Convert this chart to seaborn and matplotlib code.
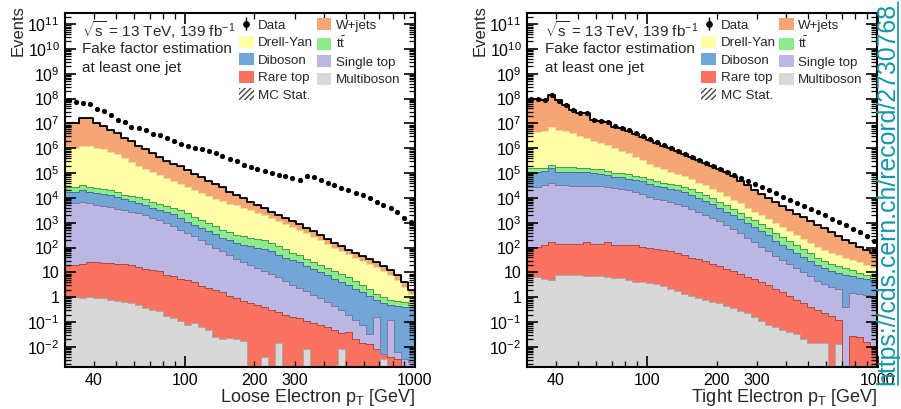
import numpy as np
import pandas as pd
import matplotlib
matplotlib.use("Agg")
import matplotlib.pyplot as plt
import matplotlib.ticker as mticker
from matplotlib.patches import Patch
from matplotlib.lines import Line2D
from matplotlib.collections import LineCollection
from matplotlib.container import ErrorbarContainer
import seaborn as sns

# ---------------- data (log10 of cumulative stack tops, bottom -> top) ----------------
pt_min, pt_max, n_bins = 30.0, 1000.0, 50

processes = ["W+jets", "Drell-Yan", r"$\mathrm{t\bar{t}}$", "Diboson",
             "Single top", "Rare top", "Multiboson"]
nan = np.nan

# Loose electrons
loose_multiboson = [-0.05, 0.02, -0.05, 0.0, -0.02, -0.05, -0.1, -0.15, -0.2, -0.25, -0.3, -0.45, -0.5, -0.55, -0.75, -0.85, -0.95, -1.1, -1.05, -1.2, -1.3, -1.6, -1.7, -1.65, -1.7, -1.75, nan, nan, -2.4, nan, -1.85, nan, nan, nan, -2.1, nan, nan, nan, nan, -2.1, nan, nan, nan, nan, nan, -2.5, nan, nan, nan, nan]
loose_raretop = [1.3, 1.3, 1.35, 1.42, 1.4, 1.36, 1.36, 1.35, 1.33, 1.28, 1.2, 1.15, 1.1, 1.05, 0.9, 0.85, 0.75, 0.68, 0.6, 0.45, 0.38, 0.3, 0.2, 0.05, -0.02, -0.15, -0.25, -0.3, -0.4, -0.5, -0.6, -0.7, -0.8, -0.85, -0.95, -1.05, -1.1, -1.2, -1.3, -1.45, -1.4, -1.7, -1.85, -1.9, -2.1, -2.3, -2.4, -2.5, nan, nan]
loose_singletop = [3.78, 3.8, 3.82, 3.78, 3.72, 3.68, 3.62, 3.56, 3.5, 3.45, 3.38, 3.3, 3.2, 3.1, 2.98, 2.85, 2.72, 2.6, 2.45, 2.3, 2.15, 2.0, 1.85, 1.72, 1.55, 1.42, 1.3, 1.18, 1.05, 0.92, 0.8, 0.65, 0.5, 0.38, 0.25, 0.1, -0.05, -0.2, -0.35, -0.5, -0.7, -0.9, -1.1, -1.5, -0.8, -2.3, -0.9, -2.2, -2.5, -2.6]
loose_diboson = [4.25, 4.25, 4.32, 4.25, 4.2, 4.15, 4.1, 4.02, 3.95, 3.88, 3.8, 3.7, 3.6, 3.5, 3.42, 3.35, 3.2, 3.05, 2.92, 2.8, 2.68, 2.55, 2.4, 2.3, 2.2, 2.12, 2.05, 2.0, 1.95, 1.85, 1.72, 1.6, 1.5, 1.4, 1.25, 1.12, 1.0, 0.88, 0.75, 0.62, 0.5, 0.35, 0.2, 0.05, -0.1, -0.25, -0.3, -0.35, -0.4, -0.4]
loose_ttbar = [4.43, 4.43, 4.52, 4.45, 4.4, 4.35, 4.3, 4.22, 4.12, 4.08, 4.03, 3.95, 3.85, 3.75, 3.68, 3.6, 3.5, 3.38, 3.22, 3.1, 3.0, 2.88, 2.72, 2.62, 2.52, 2.45, 2.4, 2.35, 2.3, 2.18, 2.05, 1.93, 1.8, 1.7, 1.55, 1.42, 1.3, 1.18, 1.05, 0.92, 0.8, 0.65, 0.5, 0.35, 0.15, 0.0, -0.1, -0.15, -0.2, -0.3]
loose_drellyan = [6.0, 6.0, 6.1, 6.1, 6.0, 5.95, 5.86, 5.75, 5.62, 5.45, 5.3, 5.15, 5.05, 4.92, 4.8, 4.68, 4.57, 4.45, 4.32, 4.2, 4.07, 3.97, 3.87, 3.77, 3.7, 3.6, 3.5, 3.4, 3.3, 3.18, 3.07, 2.95, 2.83, 2.72, 2.58, 2.44, 2.3, 2.15, 2.0, 1.86, 1.73, 1.6, 1.47, 1.35, 1.2, 1.05, 0.9, 0.7, 0.4, 0.15]
loose_wjets = [7.03, 7.03, 7.2, 7.2, 7.03, 6.9, 6.75, 6.6, 6.4, 6.28, 6.1, 5.95, 5.82, 5.66, 5.5, 5.38, 5.28, 5.13, 4.98, 4.85, 4.7, 4.55, 4.42, 4.25, 4.1, 3.98, 3.85, 3.72, 3.58, 3.45, 3.32, 3.2, 3.08, 2.95, 2.8, 2.65, 2.5, 2.35, 2.2, 2.05, 1.92, 1.78, 1.65, 1.55, 1.4, 1.25, 1.1, 0.9, 0.6, 0.3]
loose_data = [7.95, 7.88, 7.82, 7.8, 7.57, 7.5, 7.33, 7.15, 7.07, 6.85, 6.8, 6.72, 6.56, 6.52, 6.4, 6.3, 6.18, 6.1, 6.02, 5.95, 5.87, 5.81, 5.68, 5.55, 5.47, 5.33, 5.24, 5.15, 5.08, 5.0, 4.93, 4.87, 4.79, 4.72, 4.9, 4.83, 4.73, 4.62, 4.52, 4.41, 4.31, 4.21, 4.1, 3.99, 3.85, 3.71, 3.58, 3.44, 3.2, 3.05]

# Tight electrons
tight_multiboson = [0.82, 0.82, 0.75, 0.69, 0.89, 0.89, 0.88, 0.88, 0.85, 0.85, 0.85, 0.8, 0.76, 0.76, 0.7, 0.62, 0.6, 0.58, 0.55, 0.45, 0.35, 0.25, 0.15, 0.05, -0.05, -0.1, -0.2, -0.25, -0.35, -0.45, -0.55, -0.65, -0.8, -0.95, -1.1, -1.2, -1.3, -1.4, -1.5, -1.7, -1.86, -1.86, -1.86, nan, -1.9, nan, nan, nan, nan, nan]
tight_raretop = [2.03, 2.03, 2.1, 2.23, 2.14, 2.14, 2.14, 2.14, 2.23, 2.14, 2.14, 2.23, 2.12, 2.12, 2.12, 2.1, 2.03, 2.0, 1.95, 1.9, 1.85, 1.77, 1.7, 1.6, 1.56, 1.45, 1.35, 1.25, 1.15, 1.05, 0.95, 0.82, 0.72, 0.6, 0.48, 0.35, 0.2, 0.05, -0.1, -0.25, -0.4, -0.52, -0.65, -0.75, -0.92, nan, -1.55, -1.6, -1.8, -2.0]
tight_singletop = [4.45, 4.45, 4.5, 4.59, 4.52, 4.52, 4.48, 4.48, 4.48, 4.48, 4.46, 4.44, 4.39, 4.36, 4.3, 4.22, 4.14, 4.04, 3.96, 3.9, 3.84, 3.76, 3.68, 3.56, 3.44, 3.32, 3.2, 3.06, 2.9, 2.74, 2.58, 2.4, 2.22, 2.02, 1.85, 1.68, 1.5, 1.33, 1.17, 1.0, 0.84, 0.66, 0.52, 0.42, 0.32, -0.4, 0.18, 0.12, 0.08, 0.04]
tight_diboson = [5.06, 5.06, 5.08, 5.19, 5.06, 5.06, 5.06, 5.05, 5.04, 5.0, 4.97, 4.93, 4.86, 4.83, 4.78, 4.72, 4.68, 4.58, 4.48, 4.42, 4.36, 4.3, 4.24, 4.12, 4.0, 3.88, 3.75, 3.6, 3.45, 3.3, 3.14, 2.98, 2.82, 2.66, 2.5, 2.28, 2.1, 1.94, 1.78, 1.62, 1.46, 1.3, 1.16, 1.06, 0.97, 0.9, 0.84, 0.78, 0.72, 0.66]
tight_ttbar = [5.19, 5.19, 5.22, 5.33, 5.23, 5.23, 5.23, 5.22, 5.2, 5.15, 5.15, 5.1, 5.02, 4.99, 4.95, 4.88, 4.84, 4.76, 4.68, 4.62, 4.56, 4.5, 4.44, 4.35, 4.22, 4.1, 3.98, 3.85, 3.7, 3.55, 3.4, 3.25, 3.1, 2.95, 2.78, 2.58, 2.42, 2.27, 2.12, 1.95, 1.78, 1.6, 1.45, 1.35, 1.26, 1.18, 1.08, 0.98, 0.88, 0.78]
tight_drellyan = [6.67, 6.67, 6.7, 6.85, 6.72, 6.68, 6.6, 6.5, 6.42, 6.3, 6.22, 6.12, 6.0, 5.9, 5.8, 5.65, 5.52, 5.35, 5.25, 5.15, 5.05, 4.97, 4.88, 4.75, 4.62, 4.5, 4.35, 4.22, 4.08, 3.93, 3.78, 3.6, 3.45, 3.3, 3.15, 2.98, 2.82, 2.68, 2.52, 2.35, 2.2, 2.02, 1.9, 1.8, 1.7, 1.6, 1.5, 1.42, 1.3, 1.2]
tight_wjets = [8.0, 7.97, 7.95, 8.15, 7.93, 7.75, 7.56, 7.42, 7.4, 7.14, 7.1, 7.05, 6.87, 6.8, 6.7, 6.58, 6.45, 6.32, 6.2, 6.1, 6.0, 5.9, 5.78, 5.66, 5.54, 5.42, 5.3, 5.17, 5.04, 4.88, 4.68, 4.5, 4.32, 4.15, 3.99, 3.83, 3.67, 3.52, 3.37, 3.22, 3.07, 2.92, 2.77, 2.62, 2.47, 2.32, 2.17, 2.03, 1.9, 1.78]
tight_data = [8.0, 7.98, 7.95, 8.15, 7.92, 7.75, 7.55, 7.43, 7.4, 7.15, 7.1, 7.05, 6.88, 6.82, 6.72, 6.62, 6.5, 6.36, 6.24, 6.12, 6.0, 5.88, 5.77, 5.66, 5.54, 5.42, 5.3, 5.17, 5.05, 4.93, 4.8, 4.68, 4.55, 4.42, 4.3, 4.18, 4.05, 3.93, 3.8, 3.67, 3.54, 3.42, 3.3, 3.17, 3.04, 2.9, 2.76, 2.62, 2.46, 2.25]

x_ticklabels = {40: "40", 100: "100", 200: "200", 300: "300", 1000: "1000"}

# ---------------- style ----------------
colors = ["#F6A574", "#FFFFAA", "#8DEB8D", "#72A6D6", "#BCB7E2", "#FA7262", "#D8D8D8"]
edge_colors = ["black", "#E6E28A", "#3F9E3F", "#4A6E9C", "#7D78A8", "#B8463C", "#A9A9A9"]

sns.set_theme(style="ticks")
plt.rcParams["font.family"] = ["Liberation Sans", "DejaVu Sans"]
plt.rcParams["mathtext.fontset"] = "custom"
plt.rcParams["mathtext.rm"] = "Liberation Sans"
plt.rcParams["mathtext.it"] = "Liberation Sans:italic"
plt.rcParams["mathtext.bf"] = "Liberation Sans:bold"

fig = plt.figure(figsize=(9.01, 4.09), dpi=100)
W, H = 901.0, 409.0


def ax_rect(left_px, right_px, top_px, bottom_px):
    return [left_px / W, 1 - bottom_px / H, (right_px - left_px) / W, (bottom_px - top_px) / H]


edges = np.geomspace(pt_min, pt_max, n_bins + 1)
centers = np.sqrt(edges[:-1] * edges[1:])
log_bins = list(np.log10(edges))


def stack_components(tops_bottom_up):
    prev = np.zeros(n_bins)
    comps = []
    for t in tops_bottom_up:
        t = np.asarray(t, dtype=float)
        cum = np.where(np.isnan(t), 0.0, 10.0 ** np.nan_to_num(t, nan=-9))
        cum = np.maximum(cum, prev)
        comps.append(cum - prev)
        prev = cum
    return comps[::-1], prev  # top -> bottom order, total


def ylabel_fmt(v, pos):
    k = int(round(np.log10(v)))
    if k == 0:
        return "1"
    if k == 1:
        return "10"
    return r"$10^{%d}$" % k


panels = [
    dict(rect=ax_rect(65, 415, 13, 367), xlabel=r"Loose Electron p$_{\mathrm{T}}$ [GeV]",
         tops=[loose_multiboson, loose_raretop, loose_singletop, loose_diboson,
               loose_ttbar, loose_drellyan, loose_wjets], data=loose_data),
    dict(rect=ax_rect(527, 877.5, 13, 367), xlabel=r"Tight Electron p$_{\mathrm{T}}$ [GeV]",
         tops=[tight_multiboson, tight_raretop, tight_singletop, tight_diboson,
               tight_ttbar, tight_drellyan, tight_wjets], data=tight_data),
]

for p in panels:
    ax = fig.add_axes(p["rect"])
    comps, total = stack_components(p["tops"])
    df = pd.DataFrame({
        "pt": np.tile(centers, len(processes)),
        "w": np.concatenate(comps),
        "proc": np.repeat(processes, n_bins),
    })
    sns.histplot(data=df, x="pt", weights="w", hue="proc", hue_order=processes,
                 palette=dict(zip(processes, colors)), multiple="stack",
                 element="step", fill=True, alpha=1, linewidth=0,
                 edgecolor="none", bins=log_bins, log_scale=(True, False),
                 legend=False, ax=ax)
    sns.histplot(data=df, x="pt", weights="w", hue="proc", hue_order=processes,
                 palette=dict(zip(processes, edge_colors)), multiple="stack",
                 element="step", fill=False, linewidth=0.7,
                 bins=log_bins, legend=False, ax=ax)
    sns.histplot(x=centers, weights=total, element="step", fill=False,
                 color="black", linewidth=1.3, bins=log_bins,
                 legend=False, ax=ax)
    sns.scatterplot(x=centers, y=10.0 ** np.asarray(p["data"]), color="black",
                    s=14, linewidth=0, zorder=6, ax=ax)

    ax.set_yscale("log")
    ax.set_xlim(pt_min, pt_max)
    ax.set_ylim(1.55e-3, 2.8e11)
    ax.set_xlabel("")
    ax.set_ylabel("")

    # y ticks
    ax.yaxis.set_major_locator(mticker.FixedLocator([10.0 ** k for k in range(-2, 12)]))
    ax.yaxis.set_major_formatter(mticker.FuncFormatter(ylabel_fmt))
    ax.yaxis.set_minor_locator(mticker.LogLocator(base=10, subs=np.arange(2, 10), numticks=100))
    ax.yaxis.set_minor_formatter(mticker.NullFormatter())
    # x ticks
    ax.xaxis.set_major_locator(mticker.FixedLocator([100, 1000]))
    ax.xaxis.set_minor_locator(mticker.FixedLocator(
        [40, 50, 60, 70, 80, 90, 200, 300, 400, 500, 600, 700, 800, 900]))
    ax.xaxis.set_major_formatter(mticker.FuncFormatter(
        lambda v, pos: x_ticklabels.get(int(round(v)), "")))
    ax.xaxis.set_minor_formatter(mticker.FuncFormatter(
        lambda v, pos: x_ticklabels.get(int(round(v)), "")))

    ax.tick_params(which="both", direction="in", top=True, right=True,
                   labelsize=11.5, colors="black")
    ax.tick_params(which="major", length=8, width=1.2, pad=4)
    ax.tick_params(which="minor", length=4, width=0.9, pad=4)
    for s in ax.spines.values():
        s.set_linewidth(1.5)
        s.set_color("black")
    ax.set_axisbelow(False)

    # labels
    ax.text(-0.134, 1.023, "Events", rotation=90, ha="center", va="top",
            fontsize=12, transform=ax.transAxes)
    ax.text(1.0, -0.085, p["xlabel"], ha="right", va="center", fontsize=13,
            transform=ax.transAxes)

    # annotations
    ax.text(0.05, 0.952, r"$\sqrt{\mathrm{s}}$ = 13 TeV, 139 fb$^{-1}$",
            ha="left", va="center", fontsize=11, transform=ax.transAxes)
    ax.text(0.05, 0.8975, "Fake factor estimation", ha="left", va="center",
            fontsize=11, transform=ax.transAxes)
    ax.text(0.05, 0.8438, "at least one jet", ha="left", va="center",
            fontsize=11, transform=ax.transAxes)

    # legend
    data_dot = Line2D([], [], color="black", marker="o", markersize=3.8,
                      linestyle="none")
    data_bar = LineCollection([], colors="black", linewidths=1.0)
    data_h = ErrorbarContainer((data_dot, (), (data_bar,)),
                               has_xerr=False, has_yerr=True, label="Data")
    patches = [Patch(facecolor=c, edgecolor="none", label=l)
               for l, c in zip(processes, colors)]
    mcstat = Patch(facecolor="white", edgecolor="#444444", hatch="//////",
                   linewidth=0, label="MC Stat.")
    handles = [data_h, patches[1], patches[3], patches[5], mcstat,
               patches[0], patches[2], patches[4], patches[6]]
    labels = ["Data", "Drell-Yan", "Diboson", "Rare top", "MC Stat.",
              "W+jets", r"$\mathrm{t\bar{t}}$", "Single top", "Multiboson"]
    ax.legend(handles, labels, ncol=2, loc="upper left",
              bbox_to_anchor=(0.497, 0.985), frameon=False, fontsize=9.6,
              handlelength=1.1, handleheight=1.0, handletextpad=0.35,
              columnspacing=0.25, labelspacing=0.3, borderpad=0,
              borderaxespad=0)

# vertical link watermark
url_color = "#1596A8"
fig.text(887 / W, 1 - 193.5 / H, "https://cds.cern.ch/record/2730768",
         rotation=90, ha="center", va="center", fontsize=17.9, color=url_color,
         zorder=10)
fig.add_artist(Line2D([897.5 / W, 897.5 / W], [1 - 2 / H, 1 - 385 / H],
                      color=url_color, linewidth=1.2, transform=fig.transFigure))

fig.savefig("out.png", dpi=100)
